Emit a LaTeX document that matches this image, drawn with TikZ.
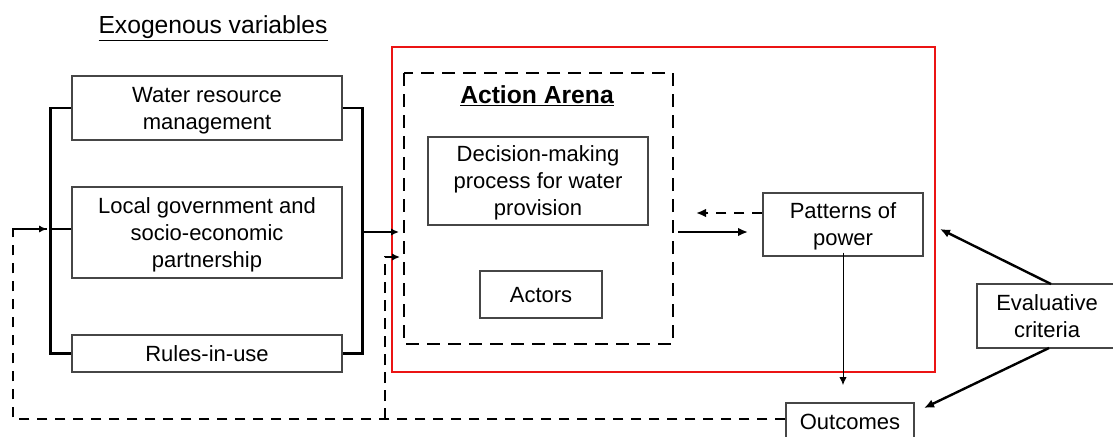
\documentclass[tikz,border=0pt]{standalone}
\usepackage{fontspec}
\setmainfont{Liberation Sans}
\usetikzlibrary{arrows.meta}
\definecolor{boxgray}{RGB}{70,70,70}
\definecolor{framered}{RGB}{235,20,20}
% centred lines of box text, set a little below the geometric centre
\newcommand\boxlines[1]{\raisebox{-1.8pt}[\height][\depth]{%
  \begin{tabular}{@{}c@{}}#1\end{tabular}}}
\begin{document}
\begin{tikzpicture}[x=0.75pt,y=-0.75pt,
  txt/.style={font=\fontsize{16.5}{20.3}\selectfont},
  box/.style={txt, draw=boxgray, line width=0.8pt, inner sep=0pt},
  heading/.style={font=\fontsize{18.5}{22}\selectfont, inner sep=0pt},
  bracket/.style={line width=2.2pt, black},
  feedback/.style={line width=1.8pt, black, dash pattern=on 8pt off 5.5pt},
  arena/.style={line width=2.1pt, black, dash pattern=on 9.75pt off 6pt},
  tip/.style={-{Latex[length=7.5pt,width=6.5pt]}},
  smalltip/.style={-{Latex[length=6pt,width=5.5pt]}}
]
\useasboundingbox (0,0) rectangle (1113,436);

% heading of the exogenous block
\node[heading] (exo) at (213,28) {\underline{Exogenous variables}};

% exogenous variables
\node[box, minimum width=202.5pt, minimum height=48pt] (water) at (207,108)
  {\boxlines{Water resource\\management}};
\node[box, minimum width=202.5pt, minimum height=68.25pt] (local) at (207,232.5)
  {\boxlines{Local government and\\socio-economic\\partnership}};
\node[box, minimum width=202.5pt, minimum height=27.75pt] (rules) at (207,353.5)
  {\boxlines{Rules-in-use}};

% brackets joining the three variables
\draw[bracket] (water.west) -- ++(-21,0) coordinate (lb) |- (rules.west);
\draw[bracket] (local.west |- 0,229) -- (lb |- 0,229) coordinate (lbin);
\draw[bracket] (water.east) -- ++(20,0) coordinate (rb) |- (rules.east);

% action situation frame and action arena
\coordinate (redtl) at (392,47);
\coordinate (redbr) at (935,372);
\draw[framered, line width=1.7pt] (redtl) rectangle (redbr);
\coordinate (aretl) at (404,73);
\coordinate (arebr) at (673,344);
\draw[arena] (aretl) rectangle (arebr);
\node[heading, font=\fontsize{18.5}{22}\selectfont\bfseries] (arenatitle) at (537,96)
  {\underline{Action Arena}};
\node[box, minimum width=165pt, minimum height=66pt] (decision) at (538,181)
  {\boxlines{Decision-making\\process for water\\provision}};
\node[box, minimum width=91.5pt, minimum height=35.25pt] (actors) at (541,294.5)
  {\boxlines{Actors}};

% outcomes side
\node[box, minimum width=120pt, minimum height=47.25pt] (patterns) at (843,224.5)
  {\boxlines{Patterns of\\power}};
\node[box, minimum width=96pt, minimum height=27.75pt] (outcomes) at (850,421.5)
  {\boxlines{Outcomes}};
\node[box, minimum width=105pt, minimum height=48pt] (evaluative) at (1047,316)
  {\boxlines{Evaluative\\criteria}};

% exogenous variables feed the arena
\coordinate (arin) at (399,232);
\draw[line width=1.8pt, smalltip] (rb |- 0,232) -- (arin);

% arena <-> patterns of power
\coordinate (arout) at (678,232);
\coordinate (patin) at (748,232);
\coordinate (patback) at (696,213);
\draw[line width=1.8pt, tip] (arout) -- (patin);
\draw[feedback, tip] (patterns.west |- 0,213) -- (patback);

% patterns of power lead to outcomes
\draw[line width=0.6pt, smalltip] (patterns.south) ++(0,-4) -- (843,385);

% evaluative criteria
\coordinate (redside) at (940,229);
\coordinate (outcorner) at (924,408);
\draw[line width=1.8pt, tip] (1051,284) -- (redside);
\draw[line width=1.8pt, tip] (1049,348) -- (outcorner);

% feedback from outcomes
\coordinate (fbturn) at (13,419);
\coordinate (fbsplit) at (385,419);
\draw[feedback] (outcomes.west |- 0,419) -- (fbturn) |- (47,229);
\draw[feedback, smalltip] (fbturn |- 0,229) -- (47,229);
\draw[feedback, smalltip] (fbsplit) |- (400,257);
\end{tikzpicture}
\end{document}
